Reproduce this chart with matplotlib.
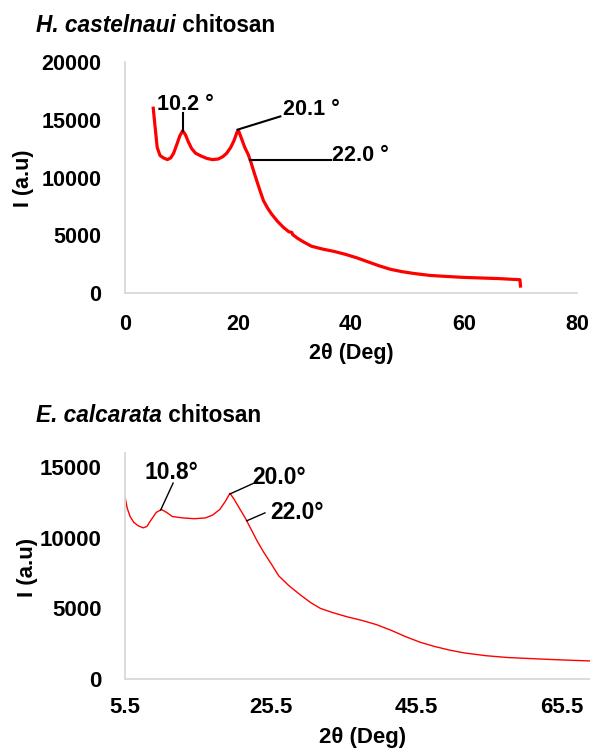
import matplotlib
matplotlib.use('Agg')
import matplotlib.pyplot as plt

plt.rcParams['font.family'] = ['Liberation Sans', 'DejaVu Sans']
plt.rcParams['font.weight'] = 'bold'
plt.rcParams['font.size'] = 15.5

# H. castelnaui chitosan
hc_x = [5.0, 5.3, 5.7, 6.2, 6.8, 7.5, 8.1, 8.6, 9.2, 9.7, 10.2, 10.7, 11.2, 11.8,
        12.5, 13.5, 14.5, 15.5, 16.5, 17.3, 18.0, 18.7, 19.3, 19.8, 20.1, 20.6,
        21.2, 21.8, 22.3, 23.0, 23.8, 24.5, 25.3, 26.0, 27.0, 28.0, 29.0, 29.5,
        29.7, 30.5, 31.5, 33.0, 35.0, 37.0, 39.0, 41.0, 43.0, 45.0, 47.0, 49.0,
        51.0, 54.0, 57.0, 60.0, 63.0, 66.0, 68.0, 69.9, 70.0]
hc_y = [16000, 14500, 12600, 11900, 11700, 11550, 11700, 12100, 12900, 13600,
        14050, 13700, 13100, 12500, 12100, 11850, 11650, 11550, 11600, 11800,
        12100, 12600, 13200, 13900, 14050, 13400, 12600, 12000, 11300, 10200,
        9000, 8000, 7300, 6800, 6200, 5700, 5300, 5250, 5050, 4750, 4450, 4050,
        3800, 3600, 3350, 3050, 2700, 2350, 2050, 1850, 1700, 1520, 1430, 1350,
        1300, 1250, 1200, 1150, 600]

# E. calcarata chitosan
ec_x = [5.5, 5.8, 6.2, 6.7, 7.3, 8.0, 8.5, 9.0, 9.8, 10.5, 11.2, 12.0, 13.5,
        15.0, 16.5, 17.5, 18.5, 19.3, 19.9, 20.5, 21.3, 22.0, 22.8, 23.6, 24.5,
        25.5, 26.6, 28.0, 29.7, 31.0, 32.3, 34.0, 36.0, 38.0, 40.0, 42.0, 44.0,
        46.0, 48.0, 50.0, 52.0, 55.0, 58.0, 61.0, 64.0, 67.0, 69.3]
ec_y = [12900, 12100, 11500, 11100, 10850, 10700, 10800, 11200, 11800, 12000,
        11800, 11500, 11400, 11350, 11400, 11600, 12000, 12600, 13150, 12700,
        12000, 11400, 10600, 9800, 9000, 8200, 7300, 6600, 5900, 5400, 5000,
        4700, 4400, 4150, 3850, 3450, 3000, 2600, 2300, 2050, 1850, 1650, 1520,
        1450, 1380, 1320, 1280]

hc_ticks_x = [0, 20, 40, 60, 80]
hc_ticks_y = [0, 5000, 10000, 15000, 20000]
ec_ticks_x = [5.5, 25.5, 45.5, 65.5]
ec_ticks_y = [0, 5000, 10000, 15000]

# annotations: label, line start, line end, text position
hc_notes = [('10.2 °', (10.3, 14060), (10.3, 15570), (10.7, 16300)),
            ('20.1 °', (19.9, 14140), (27.5, 15290), (33.0, 15900)),
            ('22.0 °', (22.1, 11490), (36.5, 11490), (41.7, 11900))]
ec_notes = [('10.8°', (10.4, 11970), (12.1, 13870), (11.9, 14600)),
            ('20.0°', (19.9, 13100), (23.2, 13870), (26.6, 14300)),
            ('22.0°', (22.2, 11200), (24.7, 11760), (29.1, 11760))]

W, H = 590, 749
fig = plt.figure(figsize=(W / 100, H / 100), dpi=100)

def px_axes(l, r, t, b):
    return fig.add_axes([l / W, 1 - b / H, (r - l) / W, (b - t) / H])

ax1 = px_axes(125, 577, 62, 293)
ax2 = px_axes(125, 590, 453, 679)

def style(ax, xt, yt, xl, yl):
    for s in ['top', 'right']:
        ax.spines[s].set_visible(False)
    for s in ['left', 'bottom']:
        ax.spines[s].set_color('#d9d9d9')
        ax.spines[s].set_linewidth(1.3)
    ax.set_xticks(xt)
    ax.set_yticks(yt)
    ax.set_xticklabels([('%g' % v) for v in xt])
    ax.tick_params(length=0, pad=15)
    ax.tick_params(axis='y', pad=17)
    ax.set_xlim(xl)
    ax.set_ylim(yl)
    ax.patch.set_alpha(0)

ax1.plot(hc_x, hc_y, color='red', lw=2.3, solid_joinstyle='round')
style(ax1, hc_ticks_x, hc_ticks_y, (0, 80), (0, 20000))
for lab, p0, p1, pt in hc_notes:
    ax1.plot([p0[0], p1[0]], [p0[1], p1[1]], color='black', lw=1.5)
    ax1.text(pt[0], pt[1], lab, ha='center', va='center', fontsize=15.5)

ax2.plot(ec_x, ec_y, color='red', lw=1.0)
style(ax2, ec_ticks_x, ec_ticks_y, (5.5, 69.3), (0, 16000))
ax2.tick_params(axis='x', pad=13, labelsize=16)
ax2.tick_params(axis='y', labelsize=16)
for lab, p0, p1, pt in ec_notes:
    ax2.plot([p0[0], p1[0]], [p0[1], p1[1]], color='black', lw=1.0)
    ax2.text(pt[0], pt[1], lab, ha='center', va='center', fontsize=16.5)

# axis labels
fig.text(23 / W, 1 - 178 / H, 'I (a.u)', rotation=90, ha='center', va='center')
fig.text(351 / W, 1 - 353 / H, '2θ (Deg)', ha='center', va='center')
fig.text(28 / W, 1 - 567 / H, 'I (a.u)', rotation=90, ha='center', va='center', fontsize=16)
fig.text(363 / W, 1 - 738 / H, '2θ (Deg)', ha='center', va='center', fontsize=16)

# titles: italic species name + plain word
renderer = fig.canvas.get_renderer()
for name, ty in [('H. castelnaui', 25), ('E. calcarata', 415)]:
    t1 = fig.text(36 / W, 1 - ty / H, name, style='italic', ha='left', va='center', fontsize=16.3)
    bb = t1.get_window_extent(renderer)
    fig.text(bb.x1 / W, 1 - ty / H, ' chitosan', ha='left', va='center', fontsize=16.3)

fig.savefig('out.png', dpi=100)
